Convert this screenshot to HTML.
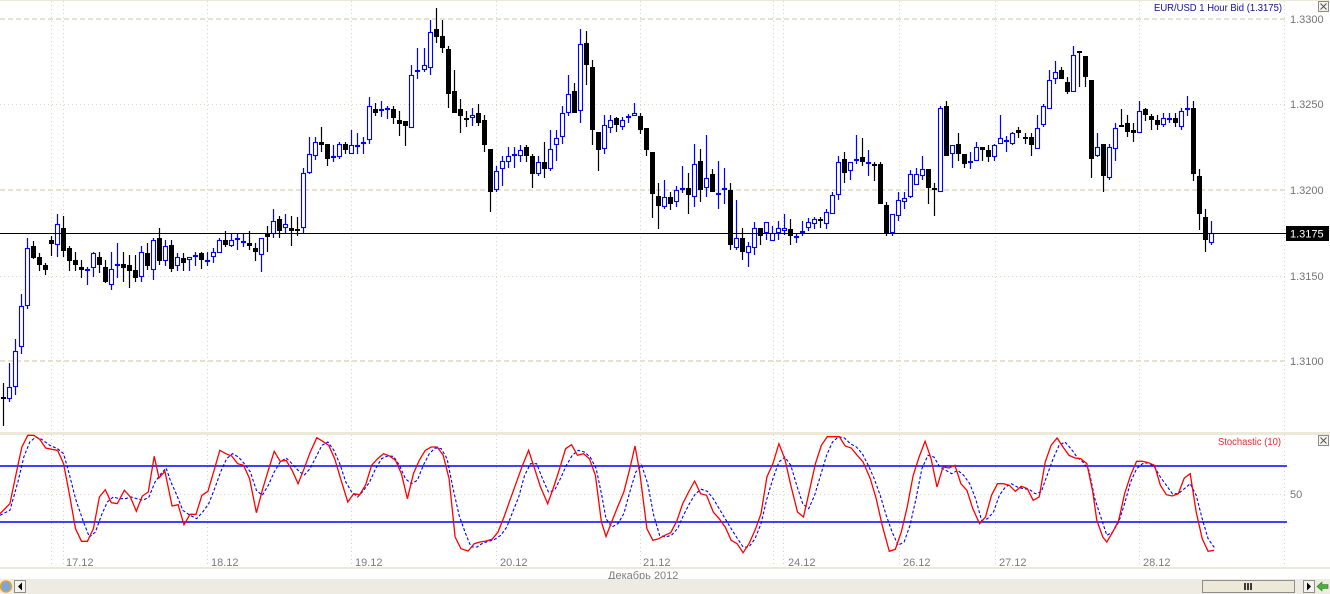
<!DOCTYPE html>
<html>
<head>
<meta charset="utf-8">
<style>
html,body{margin:0;padding:0;background:#fff;}
svg{display:block;font-family:"Liberation Sans",sans-serif;}
</style>
</head>
<body>
<svg width="1330" height="594" viewBox="0 0 1330 594" xmlns="http://www.w3.org/2000/svg">
<rect x="0" y="0" width="1330" height="594" fill="#fff"/>
<rect x="0" y="0" width="1330" height="1" fill="#ECE9D8"/>

<!-- vertical dotted day separators -->
<g stroke="#D8D4C2" stroke-width="1" stroke-dasharray="1,3">
<path d="M51.5 1V432M63.5 1V432M207.5 1V432M351.5 1V432M496.5 1V432M640.5 1V432M773.5 1V432M783.5 1V432M899.5 1V432M995.5 1V432M1139.5 1V432M1284.5 1V432"/>
<path d="M51.5 435V567M63.5 435V567M207.5 435V567M351.5 435V567M496.5 435V567M640.5 435V567M773.5 435V567M783.5 435V567M899.5 435V567M995.5 435V567M1139.5 435V567M1284.5 435V567"/>
</g>

<!-- horizontal grid main -->
<g stroke="#E6E1CC" stroke-width="2" stroke-dasharray="5,3">
<path d="M0 19H1286M0 190H1286M0 361H1286"/>
</g>
<g stroke="#DCD8C6" stroke-width="1" stroke-dasharray="1,3">
<path d="M0 104.5H1286M0 276.5H1286"/>
<path d="M0 494.5H1286"/>
</g>

<!-- price axis labels -->
<g font-size="11" fill="#747474">
<text x="1290" y="23">1.3300</text>
<text x="1290" y="108">1.3250</text>
<text x="1290" y="194">1.3200</text>
<text x="1290" y="280">1.3150</text>
<text x="1290" y="365">1.3100</text>
<text x="1290" y="498">50</text>
</g>

<!-- title -->
<text x="1154" y="11" font-size="10" fill="#10109A" textLength="128" lengthAdjust="spacingAndGlyphs">EUR/USD 1 Hour Bid (1.3175)</text>
<rect x="1318.5" y="1.5" width="10" height="10" fill="#F4F3EE" stroke="#8A8A8A"/>
<path d="M1320.5 3.5L1326.5 9.5M1326.5 3.5L1320.5 9.5" stroke="#555" stroke-width="1"/>

<!-- candles: wicks -->
<path fill="none" stroke="#000" stroke-width="1.2" d="M3.5 383V426M33.5 241V259M39.5 253V271M45.5 263V275M51.5 236V256M63.5 216V257M69.5 246V271M75.5 252V271M81.5 260V278M99.5 252V273M105.5 260V283M123.5 252V282M129.5 255V288M135.5 255V282M147.5 243V270M159.5 228V265M171.5 240V272M183.5 253V271M201.5 252V269M225.5 231V247M249.5 231V250M255.5 243V261M267.5 226V252M279.5 216V238M291.5 216V246M297.5 217V236M321.5 127V152M327.5 144V166M345.5 142V154M375.5 103V116M393.5 106V124M399.5 111V136M405.5 121V146M436.5 8V43M442.5 20V53M448.5 46V108M454.5 70V113M460.5 99V133M466.5 111V127M478.5 104V126M484.5 115V152M490.5 149V212M526.5 145V162M532.5 154V188M544.5 142V178M574.5 83V113M586.5 31V85M592.5 60V145M598.5 132V171M616.5 117V132M640.5 113V134M646.5 128V156M652.5 152V218M658.5 183V229M670.5 192V210M688.5 173V214M700.5 149V202M712.5 169V192M730.5 183V250M742.5 228V260M760.5 228V245M790.5 219V245M820.5 217V228M844.5 152V183M862.5 138V166M874.5 162V181M880.5 162V204M886.5 202V236M928.5 169V204M934.5 183V216M946.5 101V156M958.5 133V161M964.5 154V168M982.5 147V161M988.5 145V162M1018.5 127V138M1025.5 133V144M1031.5 133V156M1061.5 67V79M1067.5 77V94M1079.5 51V87M1085.5 56V87M1091.5 80V178M1103.5 144V192M1121.5 109V127M1127.5 115V137M1133.5 123V142M1145.5 108V121M1151.5 114V130M1157.5 115V130M1175.5 113V127M1193.5 101V181M1199.5 169V230M1205.5 209V252"/>
<path fill="none" stroke="#0000FF" stroke-width="1.2" d="M9.5 363V402M15.5 339V395M21.5 294V354M27.5 238V309M57.5 214V257M87.5 267V285M93.5 252V277M111.5 252V290M117.5 243V278M141.5 246V282M153.5 238V280M165.5 240V266M177.5 253V271M189.5 257V271M195.5 252V266M207.5 252V266M213.5 248V263M219.5 238V253M231.5 234V247M237.5 234V250M243.5 234V247M261.5 238V272M273.5 209V238M285.5 214V233M303.5 168V234M309.5 137V174M315.5 137V160M333.5 145V162M339.5 142V159M351.5 130V154M357.5 133V154M363.5 137V154M369.5 97V144M381.5 101V117M387.5 106V119M411.5 65V128M417.5 48V79M424.5 48V72M430.5 20V75M472.5 108V126M496.5 166V192M502.5 156V186M508.5 147V168M514.5 147V168M520.5 145V162M538.5 156V176M550.5 130V171M556.5 130V161M562.5 106V144M568.5 75V116M580.5 29V123M604.5 115V154M610.5 115V133M622.5 117V130M628.5 114V123M634.5 103V116M664.5 180V209M676.5 186V207M682.5 166V193M694.5 144V207M706.5 135V197M718.5 161V209M724.5 168V204M736.5 200V250M748.5 242V267M754.5 222V255M766.5 222V240M772.5 226V241M778.5 221V240M784.5 214V235M796.5 234V243M802.5 221V236M808.5 218V231M814.5 217V229M826.5 209V229M832.5 192V214M838.5 156V200M850.5 162V180M856.5 135V164M868.5 150V176M892.5 214V236M898.5 192V221M904.5 192V209M910.5 170V198M916.5 168V185M922.5 156V180M940.5 106V192M952.5 145V168M970.5 152V169M976.5 142V161M994.5 144V161M1000.5 115V144M1006.5 136V152M1012.5 132V145M1037.5 115V149M1043.5 104V127M1049.5 70V109M1055.5 61V84M1073.5 46V92M1097.5 133V157M1109.5 144V180M1115.5 123V161M1139.5 101V133M1163.5 113V127M1169.5 113V123M1181.5 108V130M1187.5 96V116M1211.5 221V245"/>

<!-- black bodies -->
<g fill="#000">
<rect x="1" y="397" width="5" height="2"/><rect x="31" y="246" width="5" height="12"/><rect x="37" y="257" width="5" height="8"/><rect x="43" y="265" width="5" height="5"/><rect x="49" y="240" width="5" height="4"/><rect x="61" y="228" width="5" height="23"/><rect x="67" y="248" width="5" height="13"/><rect x="73" y="260" width="5" height="5"/><rect x="79" y="267" width="5" height="3"/><rect x="97" y="257" width="5" height="8"/><rect x="103" y="267" width="5" height="15"/><rect x="121" y="264" width="5" height="4"/><rect x="127" y="265" width="5" height="6"/><rect x="133" y="270" width="5" height="8"/><rect x="145" y="253" width="5" height="13"/><rect x="157" y="238" width="5" height="23"/><rect x="169" y="245" width="5" height="24"/><rect x="181" y="258" width="5" height="5"/><rect x="199" y="253" width="5" height="7"/><rect x="223" y="240" width="5" height="5"/><rect x="247" y="243" width="5" height="3"/><rect x="253" y="248" width="5" height="4"/><rect x="265" y="233" width="5" height="4"/><rect x="277" y="219" width="5" height="12"/><rect x="289" y="228" width="5" height="3"/><rect x="295" y="229" width="5" height="2"/><rect x="319" y="142" width="5" height="3"/><rect x="325" y="144" width="5" height="15"/><rect x="343" y="144" width="5" height="6"/><rect x="373" y="109" width="5" height="4"/><rect x="391" y="109" width="5" height="9"/><rect x="397" y="120" width="5" height="4"/><rect x="403" y="121" width="5" height="5"/><rect x="434" y="29" width="5" height="8"/><rect x="440" y="36" width="5" height="12"/><rect x="446" y="49" width="5" height="45"/><rect x="452" y="91" width="5" height="22"/><rect x="458" y="109" width="5" height="7"/><rect x="464" y="118" width="5" height="2"/><rect x="476" y="113" width="5" height="10"/><rect x="482" y="120" width="5" height="25"/><rect x="488" y="149" width="5" height="43"/><rect x="524" y="147" width="5" height="9"/><rect x="530" y="156" width="5" height="18"/><rect x="542" y="162" width="5" height="7"/><rect x="572" y="91" width="5" height="22"/><rect x="584" y="43" width="5" height="22"/><rect x="590" y="67" width="5" height="63"/><rect x="596" y="132" width="5" height="18"/><rect x="614" y="118" width="5" height="7"/><rect x="638" y="116" width="5" height="14"/><rect x="644" y="128" width="5" height="22"/><rect x="650" y="152" width="5" height="42"/><rect x="656" y="196" width="5" height="10"/><rect x="668" y="197" width="5" height="7"/><rect x="686" y="188" width="5" height="7"/><rect x="698" y="161" width="5" height="29"/><rect x="710" y="174" width="5" height="18"/><rect x="728" y="190" width="5" height="55"/><rect x="740" y="238" width="5" height="14"/><rect x="758" y="228" width="5" height="8"/><rect x="788" y="229" width="5" height="7"/><rect x="818" y="219" width="5" height="2"/><rect x="842" y="159" width="5" height="14"/><rect x="860" y="157" width="5" height="5"/><rect x="872" y="164" width="5" height="2"/><rect x="878" y="164" width="5" height="40"/><rect x="884" y="205" width="5" height="28"/><rect x="926" y="169" width="5" height="19"/><rect x="932" y="188" width="5" height="2"/><rect x="944" y="106" width="5" height="50"/><rect x="956" y="144" width="5" height="10"/><rect x="962" y="154" width="5" height="10"/><rect x="980" y="147" width="5" height="3"/><rect x="986" y="150" width="5" height="7"/><rect x="1016" y="130" width="5" height="3"/><rect x="1023" y="137" width="5" height="2"/><rect x="1029" y="137" width="5" height="8"/><rect x="1059" y="70" width="5" height="9"/><rect x="1065" y="82" width="5" height="10"/><rect x="1077" y="51" width="5" height="2"/><rect x="1083" y="56" width="5" height="21"/><rect x="1089" y="80" width="5" height="79"/><rect x="1101" y="144" width="5" height="32"/><rect x="1119" y="125" width="5" height="2"/><rect x="1125" y="123" width="5" height="9"/><rect x="1131" y="130" width="5" height="3"/><rect x="1143" y="109" width="5" height="6"/><rect x="1149" y="116" width="5" height="4"/><rect x="1155" y="120" width="5" height="5"/><rect x="1173" y="118" width="5" height="5"/><rect x="1191" y="108" width="5" height="66"/><rect x="1197" y="176" width="5" height="38"/><rect x="1203" y="217" width="5" height="23"/>
</g>

<!-- blue hollow bodies -->
<g fill="#fff" stroke="#0000FF" stroke-width="1.1">
<rect x="7.5" y="387.5" width="4" height="11"/><rect x="13.5" y="351.5" width="4" height="35"/><rect x="19.5" y="306.5" width="4" height="40"/><rect x="25.5" y="248.5" width="4" height="57"/><rect x="55.5" y="224.5" width="4" height="20"/><rect x="85.5" y="269.5" width="4" height="1"/><rect x="91.5" y="253.5" width="4" height="14"/><rect x="109.5" y="269.5" width="4" height="15"/><rect x="115.5" y="264.5" width="4" height="1"/><rect x="139.5" y="252.5" width="4" height="24"/><rect x="151.5" y="240.5" width="4" height="29"/><rect x="163.5" y="246.5" width="4" height="14"/><rect x="175.5" y="257.5" width="4" height="8"/><rect x="187.5" y="257.5" width="4" height="2"/><rect x="193.5" y="255.5" width="4" height="1"/><rect x="205.5" y="260.5" width="4" height="1"/><rect x="211.5" y="252.5" width="4" height="4"/><rect x="217.5" y="240.5" width="4" height="12"/><rect x="229.5" y="240.5" width="4" height="5"/><rect x="235.5" y="238.5" width="4" height="1"/><rect x="241.5" y="241.5" width="4" height="1"/><rect x="259.5" y="238.5" width="4" height="16"/><rect x="271.5" y="221.5" width="4" height="12"/><rect x="283.5" y="224.5" width="4" height="3"/><rect x="301.5" y="173.5" width="4" height="54"/><rect x="307.5" y="154.5" width="4" height="18"/><rect x="313.5" y="142.5" width="4" height="13"/><rect x="331.5" y="156.5" width="4" height="1"/><rect x="337.5" y="144.5" width="4" height="12"/><rect x="349.5" y="145.5" width="4" height="8"/><rect x="355.5" y="145.5" width="4" height="1"/><rect x="361.5" y="142.5" width="4" height="1"/><rect x="367.5" y="106.5" width="4" height="33"/><rect x="379.5" y="109.5" width="4" height="1"/><rect x="385.5" y="108.5" width="4" height="1"/><rect x="409.5" y="75.5" width="4" height="52"/><rect x="415.5" y="70.5" width="4" height="1"/><rect x="422.5" y="65.5" width="4" height="4"/><rect x="428.5" y="32.5" width="4" height="35"/><rect x="470.5" y="115.5" width="4" height="2"/><rect x="494.5" y="171.5" width="4" height="18"/><rect x="500.5" y="161.5" width="4" height="7"/><rect x="506.5" y="156.5" width="4" height="5"/><rect x="512.5" y="154.5" width="4" height="1"/><rect x="518.5" y="150.5" width="4" height="5"/><rect x="536.5" y="162.5" width="4" height="11"/><rect x="548.5" y="149.5" width="4" height="19"/><rect x="554.5" y="138.5" width="4" height="6"/><rect x="560.5" y="113.5" width="4" height="23"/><rect x="566.5" y="94.5" width="4" height="18"/><rect x="578.5" y="44.5" width="4" height="66"/><rect x="602.5" y="125.5" width="4" height="23"/><rect x="608.5" y="120.5" width="4" height="7"/><rect x="620.5" y="120.5" width="4" height="6"/><rect x="626.5" y="116.5" width="4" height="1"/><rect x="632.5" y="113.5" width="4" height="2"/><rect x="662.5" y="197.5" width="4" height="9"/><rect x="674.5" y="190.5" width="4" height="11"/><rect x="680.5" y="188.5" width="4" height="1"/><rect x="692.5" y="164.5" width="4" height="32"/><rect x="704.5" y="178.5" width="4" height="9"/><rect x="716.5" y="193.5" width="4" height="1"/><rect x="722.5" y="188.5" width="4" height="1"/><rect x="734.5" y="238.5" width="4" height="9"/><rect x="746.5" y="246.5" width="4" height="6"/><rect x="752.5" y="228.5" width="4" height="19"/><rect x="764.5" y="222.5" width="4" height="10"/><rect x="770.5" y="233.5" width="4" height="7"/><rect x="776.5" y="228.5" width="4" height="4"/><rect x="782.5" y="228.5" width="4" height="2"/><rect x="794.5" y="236.5" width="4" height="1"/><rect x="800.5" y="231.5" width="4" height="1"/><rect x="806.5" y="222.5" width="4" height="5"/><rect x="812.5" y="219.5" width="4" height="4"/><rect x="824.5" y="212.5" width="4" height="11"/><rect x="830.5" y="195.5" width="4" height="18"/><rect x="836.5" y="162.5" width="4" height="32"/><rect x="848.5" y="162.5" width="4" height="8"/><rect x="854.5" y="159.5" width="4" height="1"/><rect x="866.5" y="162.5" width="4" height="1"/><rect x="890.5" y="214.5" width="4" height="18"/><rect x="896.5" y="200.5" width="4" height="15"/><rect x="902.5" y="198.5" width="4" height="3"/><rect x="908.5" y="174.5" width="4" height="22"/><rect x="914.5" y="174.5" width="4" height="10"/><rect x="920.5" y="169.5" width="4" height="6"/><rect x="938.5" y="108.5" width="4" height="83"/><rect x="950.5" y="145.5" width="4" height="8"/><rect x="968.5" y="161.5" width="4" height="1"/><rect x="974.5" y="147.5" width="4" height="13"/><rect x="992.5" y="145.5" width="4" height="11"/><rect x="998.5" y="138.5" width="4" height="5"/><rect x="1004.5" y="140.5" width="4" height="1"/><rect x="1010.5" y="133.5" width="4" height="10"/><rect x="1035.5" y="128.5" width="4" height="20"/><rect x="1041.5" y="106.5" width="4" height="18"/><rect x="1047.5" y="80.5" width="4" height="28"/><rect x="1053.5" y="72.5" width="4" height="6"/><rect x="1071.5" y="55.5" width="4" height="36"/><rect x="1095.5" y="147.5" width="4" height="8"/><rect x="1107.5" y="147.5" width="4" height="30"/><rect x="1113.5" y="128.5" width="4" height="20"/><rect x="1137.5" y="111.5" width="4" height="21"/><rect x="1161.5" y="118.5" width="4" height="6"/><rect x="1167.5" y="118.5" width="4" height="1"/><rect x="1179.5" y="111.5" width="4" height="15"/><rect x="1185.5" y="108.5" width="4" height="1"/><rect x="1209.5" y="233.5" width="4" height="9"/>
</g>

<!-- current price line -->
<path d="M0 233.5H1286" stroke="#000" stroke-width="1"/>
<rect x="1286" y="226" width="43" height="15" fill="#000"/>
<text x="1290" y="237.5" font-size="11" fill="#fff">1.3175</text>

<!-- panel separator -->
<rect x="0" y="432" width="1330" height="3" fill="#ECE9D8"/>

<!-- stochastic panel -->
<path d="M0 466H1287M0 522H1287" stroke="#0000FF" stroke-width="1.4"/>
<text x="1218" y="445" font-size="10" fill="#F02828" textLength="63" lengthAdjust="spacingAndGlyphs">Stochastic (10)</text>
<rect x="1318.5" y="435.5" width="10" height="10" fill="#F4F3EE" stroke="#8A8A8A"/>
<path d="M1320.5 437.5L1326.5 443.5M1326.5 437.5L1320.5 443.5" stroke="#555" stroke-width="1"/>

<polyline fill="none" stroke="#0000FF" stroke-width="1.1" stroke-dasharray="3,2" points="0,515.3 9.9,510.3 17.9,482 23.8,457 29.8,442 35.8,437 41.7,439.3 49.7,445.3 57.6,448.7 63.6,453.7 69.6,475.3 75.5,498.7 83.5,522 89.4,537 95.4,532 101.4,515.3 107.3,502 113.3,497 119.2,498.7 125.2,498.7 131.2,497 137.1,498.7 143.1,500.3 149,497 155,482 161,473.7 166.1,468 170.9,482 176.9,495.3 182.8,510.3 190,515.3 196.7,518.7 202.7,512 208.7,503.7 214.6,488.7 220.6,472 226.6,458.7 232.5,453.7 238.5,457 244.4,463.7 250.4,472 256.4,490.3 262.3,495.3 268.3,485.3 274.2,472 280.2,462 286.2,458 292.1,463.7 298.1,470.3 304.1,475.3 310,468.7 316,457 321.9,445.3 327.9,442 333.9,450.3 339.8,463.7 345.8,482 351.7,492 357.7,497 363.7,490.3 369.6,482 375.6,468.7 381.6,458.7 387.5,456 393.5,456.3 399.4,465.3 405.4,478.7 411.4,483.7 417.3,480.3 423.3,465.3 429.3,453.7 435.2,448 441.2,448.7 447.1,458.7 453.1,488.7 459.1,515.3 465,532 471,547 477,547 482.9,543 488.9,541.3 494.8,539.3 500.8,535.3 506.8,527 512.7,512 518.7,497 524.6,475.3 530.6,463.7 536.6,463.7 542.5,478.7 548.5,492 554.5,490.3 560.4,478.7 566.4,465.3 572.3,455.3 578.3,450.3 584.3,452 590.2,457 596.2,468.7 602.1,497 606,518.7 611.9,527 617.9,523.7 623.8,513.7 629.8,492 635.8,472 641.7,465.3 647.7,483.7 653.7,515.3 659.6,535.3 665.6,537 671.5,535.3 677.5,528.7 683.5,515.3 689.4,503.7 695.4,493.7 701.4,489.3 707.3,491.3 713.3,498.7 719.2,508.7 725.2,518.7 731.2,528.7 737.1,538 743.1,547 749,547 755,538.7 761,523.7 766.9,498.7 772.9,478.7 778.9,462 784.8,457 790.8,465.3 796.7,485.3 802.7,503.7 808.7,508.7 814.6,495.3 820.6,475.3 826.6,455.3 832.5,442 838.5,436.7 844.4,438 850.4,443.7 856.4,447 862.3,453.7 868.3,465.3 874.2,478.7 880.2,495.3 886.2,515.3 892.1,532 898.1,545.3 904.1,542 910,525.3 916,498.7 921.9,468.7 927.9,455.3 933.9,457 939.8,467 945.8,470.3 951.8,473.7 957.7,470.3 963.7,475.3 969.7,483.7 975.6,498.7 981.6,520.3 987.5,518.7 993.5,512 999.4,495.3 1005.4,487 1011.4,483.7 1017.3,487 1023.3,488.7 1029.3,489.3 1035.2,493.7 1041.2,492 1047.1,475.3 1053.1,458.7 1059.1,445.3 1065,442 1071,448.7 1077,457 1082.9,462 1088.9,470.3 1094.8,498.7 1100.8,517 1106.8,535.3 1112.7,532 1118.7,522 1124.6,503.7 1130.6,482 1136.6,468.7 1142.5,463.7 1148.5,462.7 1154.5,467 1160.4,477 1166.4,485.3 1172.3,493.7 1178.3,493.7 1184.3,488.7 1190.2,483.7 1196.2,495.3 1202.2,518.7 1208.1,538.7 1215.2,548.7"/>

<polyline fill="none" stroke="#FF0000" stroke-width="1.3" points="0,513.7 9.9,503.7 17.9,465.3 21.9,447 27.8,435.3 33.8,435.3 39.7,439.3 45.7,448 51.7,449.3 57.6,450.3 63.6,463.7 69.6,495.3 75.5,528.7 81.5,541.3 87.4,541.3 93.4,528.7 99.4,497 105.3,489.7 111.3,502.7 117.2,503.7 124.4,490.3 130.4,497 136.3,511.3 142.3,496 148.3,492 154.2,456.3 159,478 164.9,471.3 172.1,506 178.1,504.7 184,524.7 190,514.3 196,514.3 201.9,495.3 207.9,491.3 213.8,471.3 219.8,450.3 225.8,453.7 231.7,456 237.7,463.7 243.6,465.3 249.6,478.7 256.4,512.7 262.3,490.3 268.3,470.3 274.2,451.3 280.2,461.3 286.2,460.3 292.1,470.3 298.1,483.7 304.1,468.7 310,452.7 316.8,437.7 322.7,441.3 328.7,445.3 334.7,458.7 340.6,478.7 347.8,502 353.7,493.7 359.7,494.7 365.7,484.7 371.6,465.3 377.6,458.7 383.5,453.7 389.5,456 395.5,460.3 401.4,473.7 407.4,498.7 413.4,473.7 419.3,460.3 425.3,450.3 431.2,447 437.2,447 443.2,455.3 449.1,478.7 455.1,537 461,548.7 468.2,551 474.2,543.7 480.1,542 486.1,541 492.1,539.3 498,532 504,517 509.9,500.3 515.9,483.7 521.9,467 528.6,450.3 534.6,468.7 540.5,487 547.7,503.7 553.7,487 559.6,468.7 565.6,448.7 571.5,444.7 577.5,455.3 583.5,453.7 589.4,458.7 595.4,475.3 601.4,522 606,536.5 612,521 618,506 623.8,492 629.8,468.7 635,446 639.7,472 646.9,528.7 652.9,540.3 658.8,538.7 664.8,535.3 670.7,532.7 676.7,521.3 682.7,503.7 688.6,492 694.6,481 700.6,493.7 706.5,495.3 713.3,512 719.2,518.7 725.2,527 731.2,540.3 737.1,543.7 743.1,552.7 749,543.7 755,530.3 761,513.7 766.9,477 772.9,463.7 778.9,443.7 784.8,458.7 790.8,485.3 797.5,512 803.5,517 809.5,490.3 815.4,463.7 821.4,445.3 827.3,436.7 833.3,436.7 839.3,436.7 845.2,446 851.2,448 857.2,455.3 863.1,462 870.3,478.7 876.2,498.7 882.2,525.3 889.3,551.3 895.3,549.3 901.3,532 907.2,507 913.2,475.3 919.1,457 925.1,441.3 931.1,458.7 937,487 943,467 949,468 954.9,465.3 960.9,483.7 966.9,490.3 972.8,508.7 979.6,523.7 985.5,517 991.5,495.3 997.5,483.7 1003.4,483.7 1009.4,485.3 1015.3,491.3 1021.3,486.3 1027.3,488.7 1033.2,500.3 1039.2,497 1045.2,462 1051.1,445.3 1057.1,438 1063,447 1069,455.3 1075,458 1080.9,458.7 1086.9,463.7 1092.8,492 1096.8,520.3 1102.8,537 1106.8,542 1112.7,532 1118.7,520.3 1124.6,493.7 1130.6,475.3 1136.6,461.3 1142.5,461.3 1148.5,462.7 1154.5,465.3 1160.4,485.3 1166.4,494.7 1172.3,496 1178.3,493.7 1184.3,478 1190.2,473.7 1196.2,512 1202.2,538.7 1208.1,551.3 1214.1,550.3"/>

<!-- date labels -->
<g font-size="11" fill="#7C7C7C">
<text x="66" y="566">17.12</text>
<text x="211" y="566">18.12</text>
<text x="355" y="566">19.12</text>
<text x="500" y="566">20.12</text>
<text x="643" y="566">21.12</text>
<text x="788" y="566">24.12</text>
<text x="903" y="566">26.12</text>
<text x="999" y="566">27.12</text>
<text x="1143" y="566">28.12</text>
</g>

<!-- bottom separator -->
<rect x="0" y="567" width="1330" height="2" fill="#ECE9D8"/>
<text x="608" y="579" font-size="11" fill="#7C7C7C">Декабрь 2012</text>

<!-- scrollbar -->
<rect x="0" y="579" width="1330" height="15" fill="#EDEBE2"/>
<circle cx="6" cy="586.5" r="5.5" fill="#7BA7D8" stroke="#E8A030" stroke-width="1.5"/>
<rect x="14.5" y="580.5" width="11" height="12" fill="#F4F3EE" stroke="#8E8E8E"/>
<path d="M18 586.5L22 582.5V590.5Z" fill="#000"/>
<rect x="1202.5" y="580.5" width="92" height="12" fill="#ECE9D8" stroke="#8E8E8E"/>
<path d="M1245 583V590M1248 583V590M1251 583V590" stroke="#000" stroke-width="1.5"/>
<rect x="1303.5" y="580.5" width="11" height="12" fill="#F4F3EE" stroke="#8E8E8E"/>
<path d="M1311 586.5L1307 582.5V590.5Z" fill="#000"/>
<path d="M1317 586.5L1322 582V584.5H1328V588.5H1322V591Z" fill="#4CAF3C" stroke="#2E7D22" stroke-width="0.6"/>
</svg>
</body>
</html>
